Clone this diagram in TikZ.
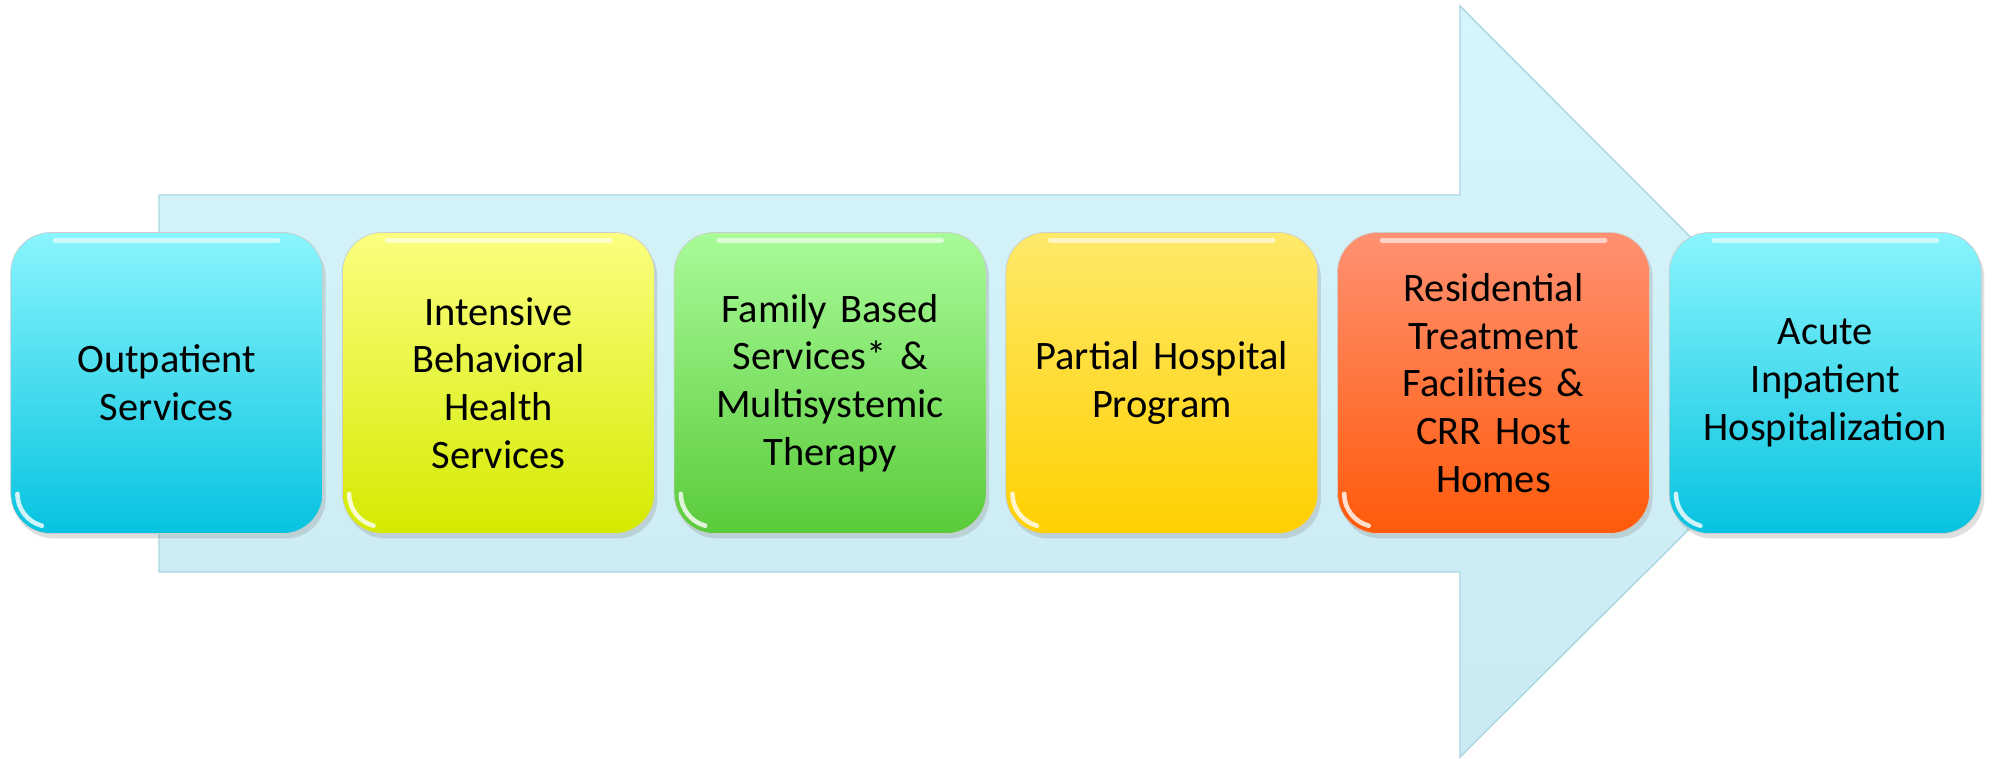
\documentclass[tikz,border=0pt]{standalone}
\usepackage{fontspec}
\setmainfont{Carlito}
\usepackage{tikz}
\usetikzlibrary{matrix,shadows,calc}

\definecolor{cyantop}{HTML}{8AF5FD}
\definecolor{cyanbot}{HTML}{06C3E0}
\definecolor{lemontop}{HTML}{FBFF80}
\definecolor{lemonbot}{HTML}{D4EA00}
\definecolor{greentop}{HTML}{A8FB98}
\definecolor{greenbot}{HTML}{5ACB3A}
\definecolor{goldtop}{HTML}{FFE96A}
\definecolor{goldbot}{HTML}{FFD000}
\definecolor{orangetop}{HTML}{FF9172}
\definecolor{orangebot}{HTML}{FF5A0A}
\definecolor{arrowtop}{HTML}{D6F6FC}
\definecolor{arrowbot}{HTML}{CBE9F0}
\definecolor{arrowline}{HTML}{A9D6E0}

\tikzset{
    stage/.style={rectangle, rounded corners=0.4cm, minimum width=3.12cm,
        minimum height=3.01cm, text width=2.8cm, align=center, anchor=center,
        font=\fontsize{11.5}{13.6}\selectfont,
        draw=white!60!gray, line width=0.2pt,
        drop shadow={opacity=0.25, shadow xshift=0.03cm, shadow yshift=-0.05cm}}
}

\begin{document}
\begin{tikzpicture}
    \useasboundingbox (0,0) rectangle (19.94,7.59);

    % big background arrow
    \draw[arrowline, line width=0.4pt, top color=arrowtop, bottom color=arrowbot]
        (1.59,5.64) -- (14.60,5.64) -- (14.60,7.53) -- (18.36,3.76)
        -- (14.60,0.02) -- (14.60,1.87) -- (1.59,1.87) -- cycle;

    %\matrix[matrix of nodes,nodes={stage},column 1/.style={nodes={fill=cyan}}] {
    \matrix (m) [matrix of nodes, column sep=0.19cm,
        nodes={stage},
        column 1/.style={nodes={top color=cyantop, bottom color=cyanbot}},
        column 2/.style={nodes={top color=lemontop, bottom color=lemonbot}},
        column 3/.style={nodes={top color=greentop, bottom color=greenbot}},
        column 4/.style={nodes={top color=goldtop, bottom color=goldbot}},
        column 5/.style={nodes={top color=orangetop, bottom color=orangebot}},
        column 6/.style={nodes={top color=cyantop, bottom color=cyanbot}} ] at (9.96,3.76) {
{Outpatient\\Services} & {Intensive\\Behavioral\\Health\\Services} & {Family Based\\Services* \&\\Multisystemic\\Therapy} & {Partial Hospital\\Program} & {Residential\\Treatment\\Facilities \&\\CRR Host\\Homes} & {Acute\\Inpatient\\Hospitalization} \\
    };

    % glossy highlights
    \foreach \i in {1,...,6} {
        \draw[white, opacity=0.6, line width=1.4pt, line cap=round]
            ($(m-1-\i.north west)+(0.45,-0.08)$) -- ($(m-1-\i.north east)+(-0.45,-0.08)$);
        \draw[white, opacity=0.8, line width=1.3pt, line cap=round]
            ($(m-1-\i.south west)+(0.07,0.4)$) arc[start angle=180, end angle=255, radius=0.33cm];
    }
\end{tikzpicture}
\end{document}
